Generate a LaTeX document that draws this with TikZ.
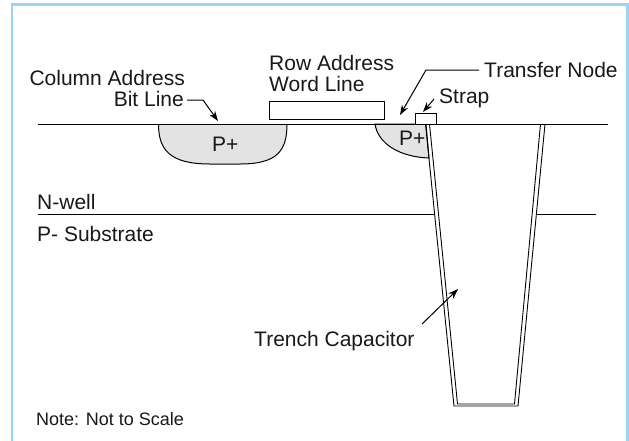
\documentclass[tikz,border=0pt]{standalone}
\usepackage{fontspec}
\setmainfont{Liberation Sans}
\usetikzlibrary{arrows.meta}
\tikzset{
  lab/.style={inner sep=0pt,font=\fontsize{21}{24}\selectfont,text=black!90},
  small/.style={inner sep=0pt,font=\fontsize{18}{21}\selectfont,text=black!90},
  ln/.style={draw=black,line width=1pt},
  thinln/.style={draw=black,line width=0.9pt},
  lead/.style={draw=black,line width=1pt,-{Stealth[length=10pt,width=7pt]}},
  well/.style={fill=black!11,draw=black,line width=1pt}
}
\definecolor{framec}{RGB}{155,210,250}
\begin{document}
\begin{tikzpicture}[x=1pt,y=-1pt]
\useasboundingbox (0,0) rectangle (629,440);
\fill[white] (0,0) rectangle (629,440);
% frame
\draw[framec,line width=2.5pt] (12,442) -- (12,4.5) -- (627.5,4.5) -- (627.5,442);
% wells
\path[well] (158.5,124) .. controls (158.5,150) and (170,164) .. (210,164) -- (240,164) .. controls (278,164) and (287,150) .. (287,124);
\path[well] (375,124) .. controls (378,144) and (400,157) .. (429,158) -- (426,124) -- cycle;
% surface lines
\coordinate (sl) at (38,124); \coordinate (sr) at (608,124);
\draw[ln] (sl) -- (sr);
\coordinate (nl) at (38,214); \coordinate (nm) at (434,214);
\coordinate (nn) at (536,214); \coordinate (nr) at (596,214);
\draw[thinln] (nl) -- (nm);
\draw[thinln] (nn) -- (nr);
% trench
\fill[white] (429.5,125) -- (457,404) -- (515,404) -- (540,125) -- cycle;
\draw[thinln] (425.5,124) -- (454,406) -- (518,406) -- (545,124);
\draw[thinln] (429.5,124) -- (457.5,404) -- (514.5,404) -- (540.5,124);
% rectangles
\node[draw=black,line width=1pt,fill=white,minimum width=115pt,minimum height=18pt,inner sep=0pt,anchor=north west] (row) at (269,101) {};
\node[draw=black,line width=1pt,fill=white,minimum width=21pt,minimum height=11pt,inner sep=0pt,anchor=north west] (strapbox) at (415,113) {};
% labels
\node[lab,anchor=base east] (col) at (185,85) {Column Address};
\node[lab,anchor=base east] (bit) at (184,106) {Bit Line};
\node[lab,anchor=base west] (rowt) at (269,70) {Row Address};
\node[lab,anchor=base west] (wordt) at (269,91) {Word Line};
\node[lab,anchor=base west] (tn) at (484,77) {Transfer Node};
\node[lab,anchor=base west] (st) at (439,103) {Strap};
\node[lab,anchor=base west] (p1) at (212,151) {P+};
\node[lab,anchor=base west] (p2) at (399,145) {P+};
\node[lab,anchor=base west] (nw) at (37,209) {N-well};
\node[lab,anchor=base west] (ps) at (37,241) {P- Substrate};
\node[lab,anchor=base west] (tc) at (254,346) {Trench Capacitor};
\node[small,anchor=base west] (note) at (36,425) {Note: Not to Scale};
% leaders
\coordinate (a1) at (203,100); \coordinate (a2) at (218,121);
\draw[lead] (bit.east |- a1) ++(3,0) -- (a1) -- (a2);
\coordinate (b0) at (479,70); \coordinate (b1) at (426,70); \coordinate (b2) at (400,115);
\draw[lead] (b0) -- (b1) -- (b2);
\coordinate (c0) at (434,99); \coordinate (c1) at (423,112);
\draw[lead] (c0) -- (c1);
\coordinate (d0) at (422,324); \coordinate (d1) at (458,289);
\draw[lead] (d0) -- (d1);
\end{tikzpicture}
\end{document}
